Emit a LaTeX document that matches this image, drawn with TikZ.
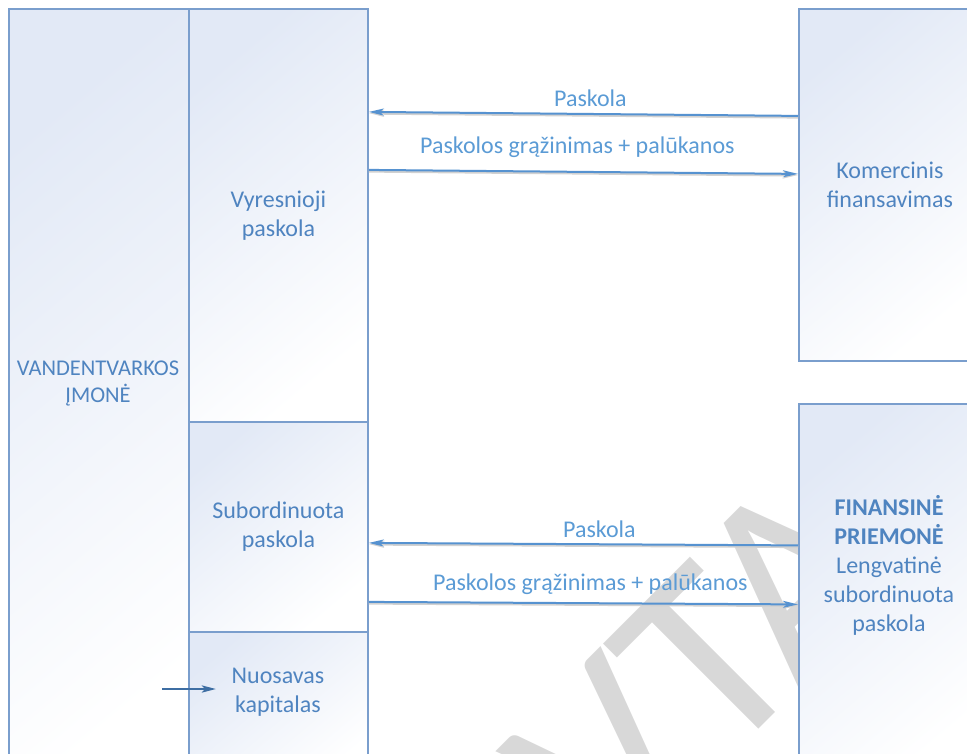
\documentclass[tikz,border=0pt]{standalone}
\usepackage{fontspec}
\setmainfont{Carlito}
\usetikzlibrary{positioning,arrows.meta}
\definecolor{boxline}{RGB}{122,158,205}
\definecolor{boxtint}{RGB}{226,233,246}
\definecolor{boxtext}{RGB}{79,132,192}
\definecolor{flowtext}{RGB}{91,155,213}
\definecolor{flowline}{RGB}{86,146,208}
\definecolor{darkflow}{RGB}{62,110,163}
\definecolor{wmgray}{RGB}{216,216,216}
\begin{document}
\begin{tikzpicture}[x=1pt,y=-1pt,
    block/.style={draw=boxline, line width=1.8pt, rectangle, anchor=north west,
        top color=boxtint, bottom color=white, shading angle=40,
        text=boxtext, align=center, inner sep=0pt,
        font=\fontsize{24}{29}\selectfont},
    flow/.style={-{Stealth[length=15pt,width=7pt,inset=4pt]}, flowline, line width=2pt,
        preaction={draw=black!18, line width=3pt, transform canvas={yshift=-1.2pt}}},
    flowlabel/.style={text=flowtext, font=\fontsize{24}{29}\selectfont, inner sep=0pt}]
    \useasboundingbox (0,0) rectangle (967,753);
    \clip (0,0) rectangle (967,753);

    \node[text=wmgray, rotate=45, inner sep=0pt, font=\fontsize{265}{265}\selectfont] (wm) at (701,667) {VTA};

    \node[block, minimum width=180, minimum height=790] (firm) at (8,8) {};
    \node[text=boxtext, align=center, font=\fontsize{22.5}{27}\selectfont] (firmtext) at (98,383) {VANDENTVARKOS\\ĮMONĖ};
    \node[block, minimum width=179, minimum height=413] (senior) at (188,8) {Vyresnioji\\paskola};
    \node[block, minimum width=179, minimum height=210] (sub) at (188,421) {Subordinuota\\paskola};
    \node[block, minimum width=179, minimum height=150] (equity) at (188,631) {};
    \node[text=boxtext, align=center, font=\fontsize{24}{29}\selectfont] (equitytext) at (278,692.5) {Nuosavas\\kapitalas};
    \node[block, minimum width=182, minimum height=352] (comm) at (798,8) {Komercinis\\finansavimas};
    \node[block, minimum width=182, minimum height=380] (fund) at (798,403) {};
    \node[text=boxtext, align=center, font=\fontsize{24}{29}\selectfont] (fundtext) at (889,565) {\textbf{FINANSINĖ}\\\textbf{PRIEMONĖ}\\Lengvatinė\\subordinuota\\paskola};

    \draw[flow] ([yshift=69]comm.west) -- ([yshift=103.5]senior.east)
        node[flowlabel, midway, above=6pt, xshift=7] (loan1) {Paskola};
    \draw[flow] ([yshift=45.5]senior.east) -- ([yshift=11]comm.west)
        node[flowlabel, midway, above=13pt, xshift=-6] (repay1) {Paskolos grąžinimas + palūkanos};
    \draw[flow] ([yshift=48.5]fund.west) -- ([yshift=-16]sub.east)
        node[flowlabel, midway, above=5pt, xshift=16] (loan2) {Paskola};
    \draw[flow] ([yshift=-75]sub.east) -- ([yshift=-10.5]fund.west)
        node[flowlabel, midway, above=8pt, xshift=7] (repay2) {Paskolos grąžinimas + palūkanos};

    \coordinate (eqtail) at (162,689);
    \coordinate (eqhead) at (216,689);
    \draw[-{Stealth[length=14pt,width=7pt,inset=3pt]}, darkflow, line width=2.6pt] (eqtail) -- (eqhead);
\end{tikzpicture}
\end{document}
